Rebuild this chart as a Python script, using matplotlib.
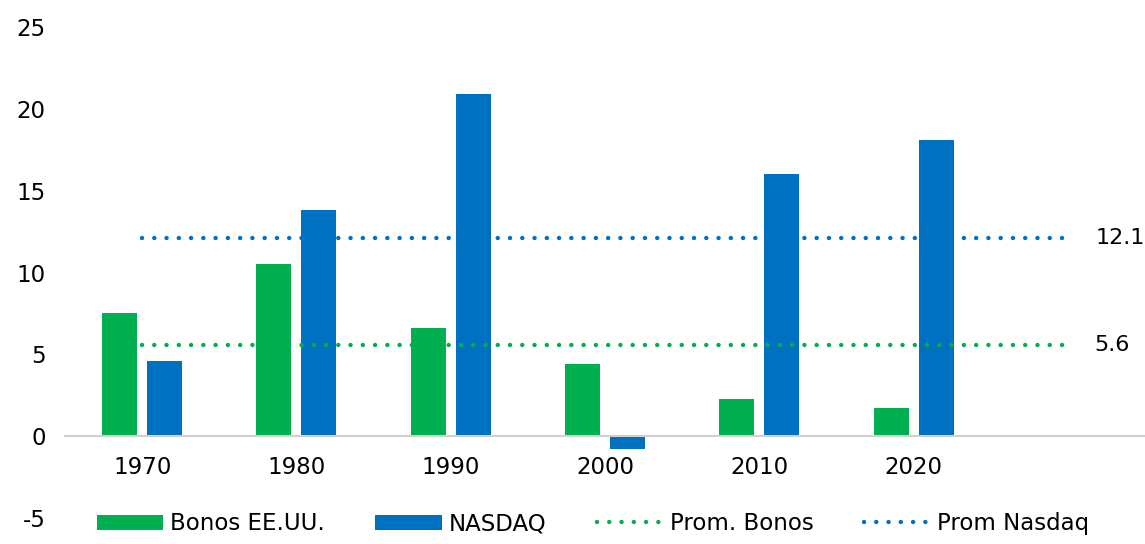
import numpy as np
import matplotlib
matplotlib.use("Agg")
import matplotlib.pyplot as plt

# datos (rendimiento anual promedio por década, %)
decadas = ["1970", "1980", "1990", "2000", "2010", "2020", ""]
bonos = [7.5, 10.5, 6.6, 4.4, 2.3, 1.7, np.nan]
nasdaq = [4.6, 13.8, 20.9, -0.8, 16.0, 18.1, np.nan]
prom_bonos = 5.6
prom_nasdaq = 12.1

verde = "#00B050"
azul = "#0070C0"

plt.rcParams['font.family'] = ['DejaVu Sans']
plt.rcParams['axes.unicode_minus'] = False

fig = plt.figure(figsize=(11.45, 5.44), dpi=100)
ax = fig.add_axes([0.0568, 0.0478, 0.9432, 0.9022])

x = np.arange(len(decadas))
w = 0.227
sep = 0.065
b1 = ax.bar(x - (w + sep) / 2, bonos, w, color=verde, label="Bonos EE.UU.")
b2 = ax.bar(x + (w + sep) / 2, nasdaq, w, color=azul, label="NASDAQ")

# líneas de promedio punteadas
estilo = dict(linewidth=3.2, linestyle=(0, (0.01, 2.75)), dash_capstyle="round")
l1, = ax.plot([x[0], x[-1]], [prom_bonos] * 2, color=verde, label="Prom. Bonos", **estilo)
l2, = ax.plot([x[0], x[-1]], [prom_nasdaq] * 2, color=azul, label="Prom Nasdaq", **estilo)
ax.text(x[-1] + 0.18, prom_nasdaq, f"{prom_nasdaq:.1f}", va="center", fontsize=16)
ax.text(x[-1] + 0.17, prom_bonos, f"{prom_bonos:.1f}", va="center", fontsize=16)

ax.set_xlim(-0.5, len(decadas) - 0.5)
ax.set_ylim(-5, 25)
ax.set_yticks(range(-5, 26, 5))
ax.set_xticks(x)
ax.set_xticklabels(decadas)

for s in ["top", "right", "left"]:
    ax.spines[s].set_visible(False)
ax.spines["bottom"].set_position(("data", 0))
ax.spines["bottom"].set_color("#d0d0d0")
ax.spines["bottom"].set_linewidth(1.5)
ax.tick_params(axis="x", length=0, pad=14, labelsize=16.5)
ax.tick_params(axis="y", length=0, pad=14, labelsize=16.5)

ax.legend(handles=[b1, b2, l1, l2], loc="lower center", bbox_to_anchor=(0.518, -0.022),
          bbox_transform=fig.transFigure, ncol=4, frameon=False, fontsize=16.5,
          handlelength=2.9, handleheight=0.65, columnspacing=2.2, handletextpad=0.3)

fig.savefig("out.png", dpi=100)
